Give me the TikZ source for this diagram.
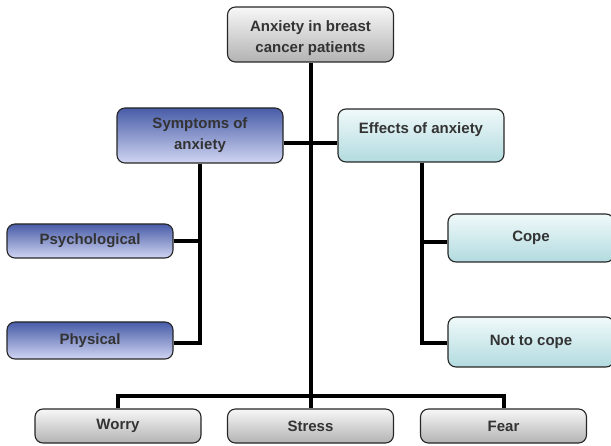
\documentclass[tikz,border=0pt]{standalone}
\usepackage{fontspec}
\setmainfont{Liberation Sans}
\begin{document}
\begin{tikzpicture}[x=1pt,y=1pt,
  box/.style={draw=black!85, line width=1.1pt, rounded corners=8pt, font=\bfseries\fontsize{15}{21}\selectfont, text=black!80, align=center, inner sep=2pt, minimum width=166pt},
  graybox/.style={box, top color=gray!6, bottom color=gray!60},
  bluebox/.style={box, top color={rgb,255:red,72;green,92;blue,168}, bottom color={rgb,255:red,208;green,213;blue,242}},
  cyanbox/.style={box, top color={rgb,255:red,240;green,249;blue,250}, bottom color={rgb,255:red,178;green,219;blue,223}},
  conn/.style={line width=4pt, black}]
\useasboundingbox (0,0) rectangle (611,445);
\clip (0,0) rectangle (611,445);
\coordinate (bar) at (310.5,49);
\coordinate (sy) at (0,302);
\coordinate (psy) at (0,203);
\coordinate (phy) at (0,102);
\node[graybox, minimum height=55pt] (top) at (310.5,410.5) {\rule{0pt}{18pt}Anxiety in breast\\cancer patients};
\node[bluebox, minimum height=55pt] (sym) at (200,309.5) {Symptoms of\\anxiety};
\node[cyanbox, minimum height=53pt] (eff) at (421,309.5) {Effects of anxiety\\[-6pt]};
\node[bluebox, minimum height=34pt] (psych) at (90,204) {Psychological};
\node[bluebox, minimum height=37pt] (phys) at (90,104.5) {Physical};
\node[cyanbox, minimum height=48pt] (cope) at (531,207) {Cope};
\node[cyanbox, minimum height=50pt] (ncope) at (531,103) {Not to cope};
\node[graybox, minimum height=34pt] (worry) at (118,19) {Worry};
\node[graybox, minimum height=34pt] (stress) at (310.5,19) {Stress};
\node[graybox, minimum height=34pt] (fear) at (503.5,19) {Fear};
\draw[conn] (top.south) -- (stress.north);
\draw[conn] (worry.north) |- (bar) -| (fear.north);
\draw[conn] (sym.east |- sy) -- (eff.west |- sy);
\draw[conn] (sym.south) |- (phys.east |- phy);
\draw[conn] (psych.east) -- (psych.east -| sym.south);
\draw[conn] (eff.south -| 422,0) |- (ncope.west |- phy);
\draw[conn] (cope.west |- psy) -- (422,203);
\end{tikzpicture}
\end{document}
